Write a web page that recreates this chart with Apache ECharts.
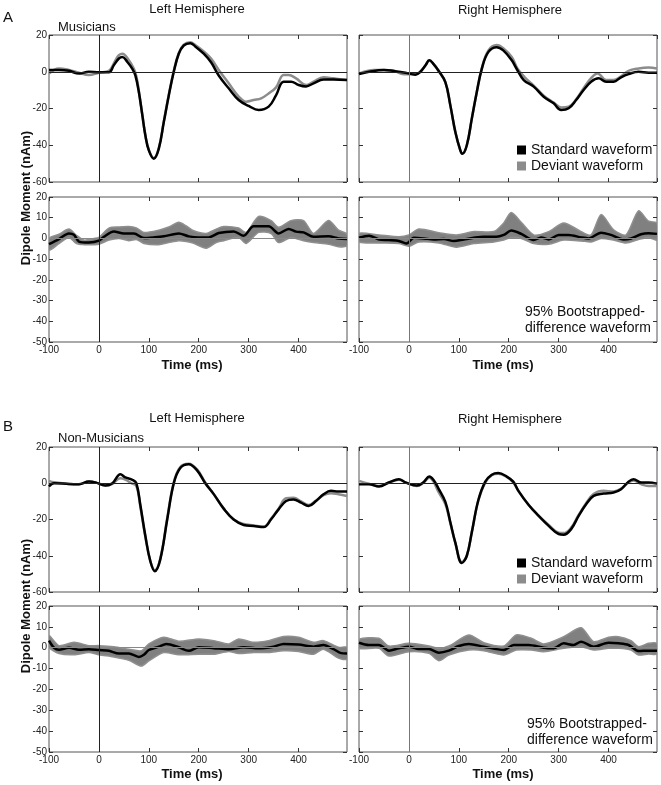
<!DOCTYPE html>
<html>
<head>
<meta charset="utf-8">
<script src="https://cdn.jsdelivr.net/npm/echarts@6/dist/echarts.min.js"></script>
<style>
html,body{margin:0;padding:0;background:#fff;}
#chart{width:661px;height:785px;}
</style>
</head>
<body>
<div id="chart"></div>
<script>
// ---------- DATA (time in ms, dipole moment in nAm) ----------
const X_MIN = -100, X_MAX = 497;
const waveAxis = {min: -60, max: 20, interval: 20};
const diffAxis = {min: -50, max: 20, interval: 10};

const musLeftStd = [[-100,1],[-80,1],[-60,0.5],[-40,-1],[-20,0],[0,-0.3],[20,-0.3],[30,3.6],[40,7.2],[47,8],[57,5.3],[67,1.6],[73,-2],[80,-11],[87,-23.7],[93,-34.6],[100,-42.8],[110,-47.3],[120,-41.8],[130,-27.4],[140,-12.9],[150,0],[160,9.8],[170,14.3],[183,15.5],[193,13.8],[210,9.8],[225,5],[240,-2],[260,-9],[280,-15.4],[300,-18.6],[320,-20.8],[340,-19],[355,-12.7],[370,-5.4],[385,-5.4],[400,-7.2],[415,-8],[430,-6.3],[450,-4.2],[470,-4.2],[497,-4.5]];
const musLeftDev = [[-100,-1],[-80,1.8],[-60,1],[-40,-0.5],[-20,-1.8],[0,-0.5],[20,0.5],[33,6.2],[40,9],[47,9.8],[60,6.2],[70,1.6],[75,-2.5],[80,-10.5],[87,-23.5],[93,-34.5],[100,-42.5],[110,-47],[120,-41.5],[130,-27],[140,-12.5],[150,0.5],[160,10.3],[170,14.8],[183,16],[193,14.5],[210,11],[225,7],[240,1],[260,-6.3],[280,-13.5],[295,-16.3],[310,-15.4],[325,-14.5],[340,-11.8],[355,-8.5],[370,-1.8],[380,-1.8],[395,-3.6],[415,-7.2],[430,-5.4],[450,-3],[470,-3.6],[497,-4.5]];
const musRightStd = [[-100,-1.3],[-80,0],[-50,1],[-30,0.4],[-7,-0.5],[13,-1.6],[23,0],[33,3.4],[41,6.2],[49,4.3],[59,0.7],[73,-5.6],[83,-18.3],[93,-32.8],[103,-42.8],[107,-44.6],[116,-40],[126,-25.5],[136,-11],[146,1.6],[159,10.7],[176,13.4],[189,11.6],[206,6.2],[216,1.5],[230,-4.5],[250,-8.1],[270,-13.6],[290,-17.2],[305,-20.8],[320,-19.9],[335,-15.4],[350,-9.9],[365,-5.4],[380,-3.6],[395,-5.4],[410,-5.4],[425,-3],[440,-1.3],[460,0],[480,-0.5],[497,-0.5]];
const musRightDev = [[-100,-1],[-70,1],[-50,1],[-30,0.5],[-10,-1.3],[13,-1.3],[23,0],[33,3.4],[41,6.2],[49,4.3],[59,0.7],[73,-5.6],[83,-18.3],[93,-32.8],[103,-42.8],[107,-44.6],[116,-40],[126,-25.5],[136,-11],[146,1.8],[159,11.5],[176,14.5],[189,12.8],[206,8],[218,1.5],[232,-3],[250,-7.5],[270,-13],[290,-16.8],[305,-19.4],[320,-19],[335,-15],[350,-9],[365,-3.5],[378,-0.9],[395,-4.5],[410,-4.5],[425,-2.5],[440,0.5],[460,1.8],[480,2.3],[497,1.8]];

const nonLeftStd = [[-100,-1.8],[-90,0],[-60,-0.4],[-40,-0.5],[-20,1],[-7,0.5],[13,-1.3],[27,0],[43,5],[53,3.2],[67,1.9],[75,0],[83,-12],[93,-29],[103,-43],[112,-48.5],[123,-42],[137,-19.7],[150,0],[163,8.4],[180,10.5],[197,7],[213,0],[230,-6],[250,-14],[270,-20],[290,-23],[310,-23.6],[330,-24.2],[345,-19.9],[360,-14.4],[375,-9.8],[390,-8.9],[405,-10.7],[420,-12.5],[435,-9.8],[450,-6.1],[465,-4.2],[480,-4.6],[497,-4.6]];
const nonLeftDev = [[-100,1.3],[-90,0.5],[-60,-0.4],[-40,-0.5],[-20,1],[-7,0.5],[13,-1.3],[27,-0.3],[43,2.8],[53,2],[65,0],[75,-1.5],[83,-13],[93,-29.5],[103,-43],[112,-48],[123,-41.5],[137,-19],[150,0.5],[163,9],[180,10.8],[197,7.5],[213,0.5],[230,-6],[250,-14],[270,-20],[290,-22.5],[310,-23.3],[330,-24],[345,-19.5],[360,-14],[375,-8.3],[390,-8],[405,-10],[420,-12],[435,-9.5],[450,-6.5],[465,-5.5],[480,-6.1],[497,-7]];
const nonRightStd = [[-100,-0.5],[-80,-0.5],[-60,-1.8],[-40,0.4],[-20,2.2],[-7,0.5],[16,-1.3],[29,0.5],[41,3.7],[49,1.9],[59,-2.8],[73,-10.3],[83,-21.5],[93,-32.8],[106,-44],[116,-40],[126,-27],[139,-9.4],[153,0.9],[166,4.7],[179,5.6],[196,3.7],[209,0.9],[220,-4.5],[240,-12],[260,-18],[280,-23.5],[300,-28],[310,-28.4],[325,-25.3],[340,-18],[355,-11.6],[370,-7],[390,-5.7],[410,-5.1],[425,-3.3],[440,0.9],[450,2.2],[465,0.4],[480,0.4],[497,-0.2]];
const nonRightDev = [[-100,1.3],[-80,-0.3],[-60,-1.5],[-40,0.4],[-20,2],[-7,0.5],[16,-1.5],[29,0.3],[41,3],[49,1],[59,-4.7],[73,-11.5],[83,-22],[93,-33],[106,-43.5],[116,-40],[126,-27],[139,-9.5],[153,0.5],[166,4.5],[179,5.3],[196,3.5],[209,0.5],[220,-4.5],[240,-12],[260,-18],[280,-23],[300,-27.3],[310,-27.5],[325,-24.5],[340,-17.5],[355,-11],[370,-6],[390,-4.2],[410,-4.5],[425,-3],[440,0.5],[450,1.5],[465,-0.5],[480,-1.5],[497,-1.5]];

// difference waveforms and 95% bootstrap bands [t, lower, upper]
const musLeftDiff = [[-100,-2.8],[-80,-0.3],[-60,2.4],[-50,1.8],[-40,-1.5],[-20,-2],[0,-1.1],[10,0.8],[30,3.3],[50,2.4],[70,2.4],[90,0.2],[110,0.5],[130,1],[160,2.4],[180,1],[200,0.5],[220,0.5],[240,2.6],[270,3.4],[290,1.3],[310,5.9],[340,5.9],[360,2.4],[380,4.6],[395,3.3],[410,2.9],[430,0.8],[460,1],[480,0],[497,-0.3]];
const musLeftBand = [[-100,-5.7,0],[-80,-2.5,2],[-60,0.5,4.5],[-45,-2.5,1.5],[-30,-3,-0.8],[-10,-3,0],[0,-2.8,0.5],[20,-0.8,5],[40,0,5.5],[60,-1.1,5.7],[75,-0.5,5],[90,-2.4,2.9],[120,-3,4],[140,-2,5.5],[160,-1.1,7.8],[175,-1.5,6],[190,-2.4,3.7],[215,-4.7,2.4],[235,-2,4.5],[250,-1.1,5.7],[280,0.5,5],[295,-2.4,2.9],[320,2.9,10.6],[345,2.4,8.6],[360,-2,5.4],[385,0.5,8.6],[410,-1.1,8.6],[430,-2,2.4],[460,-2.8,8.6],[480,-4,4],[497,-3.6,2.1]];
const musRightDiff = [[-100,0.3],[-80,1.3],[-60,-0.5],[-40,-0.8],[-20,-1.2],[-5,-2.5],[10,0.3],[30,0],[50,-0.5],[70,-0.3],[90,-1.3],[110,-0.5],[130,0.3],[150,0.8],[175,0.8],[190,1.7],[205,3.8],[225,2.2],[250,-0.8],[265,0.5],[280,-0.5],[300,1.7],[320,1.7],[345,0.5],[360,0],[385,2.8],[405,1.7],[430,-0.5],[445,0],[465,2],[480,2.5],[497,2.2]];
const musRightBand = [[-100,-1.7,2.5],[-60,-2.2,1.7],[-20,-2.5,0.8],[0,-3.8,1.7],[20,-1.7,4.5],[60,-2.2,2.8],[95,-4.2,1.7],[130,-2.5,3.3],[170,-1.7,3.3],[190,-0.8,7.5],[205,0.5,12.5],[225,0,7.8],[250,-2.5,1.7],[280,-2.8,3.3],[310,-0.8,7.5],[345,-1.2,3.3],[365,-1.7,1.7],[385,0,11.5],[410,-0.8,4.2],[435,-2.2,1.7],[460,-0.5,13.3],[480,0.5,8.3],[497,-0.8,7.5]];
const nonLeftDiff = [[-100,3.4],[-90,0],[-80,-1],[-60,0],[-40,-1],[-20,-0.7],[0,-1.1],[20,-1.5],[40,-2.8],[60,-2.8],[80,-4.4],[90,-3.4],[100,-1.1],[120,0.5],[135,1.8],[160,0.2],[180,-1.5],[200,0.2],[230,-0.2],[260,-0.7],[290,0.2],[320,-0.3],[350,0.5],[370,1.8],[400,1.5],[430,0.5],[450,1.3],[470,-0.7],[485,-2.6],[497,-2.8]];
const nonLeftBand = [[-100,0.2,5.9],[-80,-2.8,1],[-50,-3.4,2.6],[-20,-2.3,1],[0,-3.4,1],[30,-4.4,0.5],[60,-6,-0.7],[85,-8.8,-1.5],[100,-6.3,1.8],[130,-2.3,5],[160,-3.4,3.1],[200,-3.1,4.2],[230,-3.1,3.4],[260,-1.8,1.8],[280,-2.8,4.2],[310,-2.3,2.6],[340,-2.3,3.4],[370,-1.5,5.4],[400,-1.8,5],[430,-3.1,2.6],[450,-0.7,3.4],[480,-5,0.2],[497,-5.5,0.2]];
const nonRightDiff = [[-100,2.4],[-80,1.3],[-60,1.3],[-40,-1.4],[-20,-0.3],[0,0.5],[20,-0.6],[40,-0.6],[60,-2.4],[80,-1.4],[100,0.8],[120,1.8],[150,0.5],[190,-1.1],[210,1.3],[240,1.3],[270,0],[290,-0.3],[310,2.1],[330,1.3],[345,2.9],[370,0.5],[400,2.4],[420,2.1],[440,1.3],[460,-1.6],[480,-1.4],[497,-1.4]];
const nonRightBand = [[-100,-0.3,4],[-60,-0.3,4.5],[-40,-4,0.8],[0,-1.9,2.1],[40,-2.7,0.8],[60,-6.2,-0.3],[80,-3.5,0.8],[120,-1.1,6.1],[150,-1.4,2.4],[190,-3.5,0.8],[215,-1.1,6.1],[245,-1.1,4.5],[270,-1.9,1.8],[310,-0.3,5.3],[345,0.5,9.6],[370,-1.1,2.9],[400,-0.3,5],[420,-0.3,5.3],[445,-1.1,3.4],[460,-3.5,0.5],[480,-3,2.1],[497,-3,2.1]];

// ---------- LAYOUT ----------
const FONT = 'Liberation Sans, Arial, Helvetica, sans-serif';
const panels = [
  {rect:{left:49, top:35, width:298, height:147}, kind:'wave', side:'L', std:musLeftStd, dev:musLeftDev},
  {rect:{left:359, top:35, width:298, height:147}, kind:'wave', side:'R', std:musRightStd, dev:musRightDev},
  {rect:{left:49, top:197, width:298, height:145}, kind:'diff', side:'L', diff:musLeftDiff, band:musLeftBand},
  {rect:{left:359, top:197, width:298, height:145}, kind:'diff', side:'R', diff:musRightDiff, band:musRightBand},
  {rect:{left:49, top:447, width:298, height:145}, kind:'wave', side:'L', std:nonLeftStd, dev:nonLeftDev},
  {rect:{left:359, top:447, width:298, height:145}, kind:'wave', side:'R', std:nonRightStd, dev:nonRightDev},
  {rect:{left:49, top:606, width:298, height:146}, kind:'diff', side:'L', diff:nonLeftDiff, band:nonLeftBand},
  {rect:{left:359, top:606, width:298, height:146}, kind:'diff', side:'R', diff:nonRightDiff, band:nonRightBand}
];

const grid = [], xAxis = [], yAxis = [], series = [];
const tickStyle = {show:true, inside:true, length:4, lineStyle:{color:'#333', width:1}};
const noLine = {show:false, onZero:false};

panels.forEach((p, i) => {
  grid.push(Object.assign({show:true, borderColor:'#555', borderWidth:1, backgroundColor:'transparent'}, p.rect));
  const ya = p.kind === 'wave' ? waveAxis : diffAxis;
  xAxis.push({type:'value', gridIndex:i, position:'bottom', min:X_MIN, max:X_MAX, interval:100,
    axisLine:noLine, axisTick:tickStyle, splitLine:{show:false},
    axisLabel:{show:p.kind === 'diff', fontSize:10, color:'#222', fontFamily:FONT, margin:3, showMaxLabel:false}});
  xAxis.push({type:'value', gridIndex:i, position:'top', min:X_MIN, max:X_MAX, interval:100,
    axisLine:noLine, axisTick:tickStyle, splitLine:{show:false}, axisLabel:{show:false}});
  yAxis.push({type:'value', gridIndex:i, position:'left', min:ya.min, max:ya.max, interval:ya.interval,
    axisLine:noLine, axisTick:tickStyle, splitLine:{show:false},
    axisLabel:{show:p.side === 'L', fontSize:10, color:'#222', fontFamily:FONT, margin:2}});
  yAxis.push({type:'value', gridIndex:i, position:'right', min:ya.min, max:ya.max, interval:ya.interval,
    axisLine:noLine, axisTick:tickStyle, splitLine:{show:false}, axisLabel:{show:false}});
  const xi = 2*i, yi = 2*i;
  // reference lines (zero level and stimulus onset)
  series.push({type:'line', xAxisIndex:xi, yAxisIndex:yi, data:[], silent:true, z:1,
    markLine:{silent:true, symbol:['none','none'], animation:false, label:{show:false},
      data:[
        {yAxis:0, lineStyle:{color: p.kind === 'wave' ? '#222' : '#888', width:1, type:'solid'}},
        {xAxis:0, lineStyle:{color: p.side === 'L' ? '#222' : '#777', width:1, type:'solid'}}
      ]}});
  if (p.kind === 'wave') {
    series.push({type:'line', name:'Deviant waveform', xAxisIndex:xi, yAxisIndex:yi, data:p.dev,
      showSymbol:false, smooth:0.4, z:2, lineStyle:{color:'#8c8c8c', width:2.5}, itemStyle:{color:'#8c8c8c'}});
    series.push({type:'line', name:'Standard waveform', xAxisIndex:xi, yAxisIndex:yi, data:p.std,
      showSymbol:false, smooth:0.4, z:3, lineStyle:{color:'#000', width:2.5}, itemStyle:{color:'#000'}});
  } else {
    const band = p.band;
    series.push({type:'custom', name:'95% CI', xAxisIndex:xi, yAxisIndex:yi, data:band, z:2, silent:true,
      encode:{x:0, y:[1,2]}, clip:true,
      renderItem:function(params, api){
        if (params.dataIndex !== 0) return null;
        const up = [], lo = [];
        band.forEach(d => { up.push(api.coord([d[0], d[2]])); lo.push(api.coord([d[0], d[1]])); });
        return {type:'polygon', shape:{points: up.concat(lo.reverse()), smooth:0.25},
          style:{fill:'#808080', stroke:'#8f8f8f', lineWidth:1.5}};
      }});
    series.push({type:'line', name:'Difference waveform', xAxisIndex:xi, yAxisIndex:yi, data:p.diff,
      showSymbol:false, smooth:0.3, z:3, lineStyle:{color:'#000', width:2.5}, itemStyle:{color:'#000'}});
  }
});

const legendBase = {data:['Standard waveform','Deviant waveform'], orient:'vertical', icon:'rect',
  itemWidth:9, itemHeight:9, itemGap:0, selectedMode:false,
  textStyle:{fontSize:14, color:'#111', fontFamily:FONT, lineHeight:16}};

function txt(x, y, s, opt) {
  return Object.assign({type:'text', x:x, y:y, silent:true,
    style:Object.assign({text:s, fontFamily:FONT, fill:'#111', fontSize:13, textAlign:'left', textVerticalAlign:'middle'}, opt || {})});
}

const graphic = [
  txt(3, 18, 'A', {fontSize:15}),
  txt(197, 9, 'Left Hemisphere', {textAlign:'center'}),
  txt(510, 10, 'Right Hemisphere', {textAlign:'center'}),
  txt(58, 27, 'Musicians'),
  txt(3, 427, 'B', {fontSize:15}),
  txt(197, 418, 'Left Hemisphere', {textAlign:'center'}),
  txt(510, 419, 'Right Hemisphere', {textAlign:'center'}),
  txt(58, 438, 'Non-Musicians'),
  txt(192, 365, 'Time (ms)', {textAlign:'center', fontWeight:'bold'}),
  txt(503, 365, 'Time (ms)', {textAlign:'center', fontWeight:'bold'}),
  txt(192, 774, 'Time (ms)', {textAlign:'center', fontWeight:'bold'}),
  txt(503, 774, 'Time (ms)', {textAlign:'center', fontWeight:'bold'}),
  txt(525, 304, '95% Bootstrapped-\ndifference waveform', {fontSize:14, lineHeight:16, textVerticalAlign:'top'}),
  txt(527, 716, '95% Bootstrapped-\ndifference waveform', {fontSize:14, lineHeight:16, textVerticalAlign:'top'}),
  Object.assign(txt(26, 198, 'Dipole Moment (nAm)', {textAlign:'center', fontWeight:'bold'}), {rotation:Math.PI/2}),
  Object.assign(txt(26, 606, 'Dipole Moment (nAm)', {textAlign:'center', fontWeight:'bold'}), {rotation:Math.PI/2})
];

const chart = echarts.init(document.getElementById('chart'), null, {renderer:'canvas'});
chart.setOption({
  animation:false,
  backgroundColor:'#fff',
  textStyle:{fontFamily:FONT},
  grid: grid,
  xAxis: xAxis,
  yAxis: yAxis,
  legend:[
    Object.assign({left:512, top:137}, legendBase),
    Object.assign({left:512, top:550}, legendBase)
  ],
  series: series,
  graphic: graphic
});
</script>
</body>
</html>
